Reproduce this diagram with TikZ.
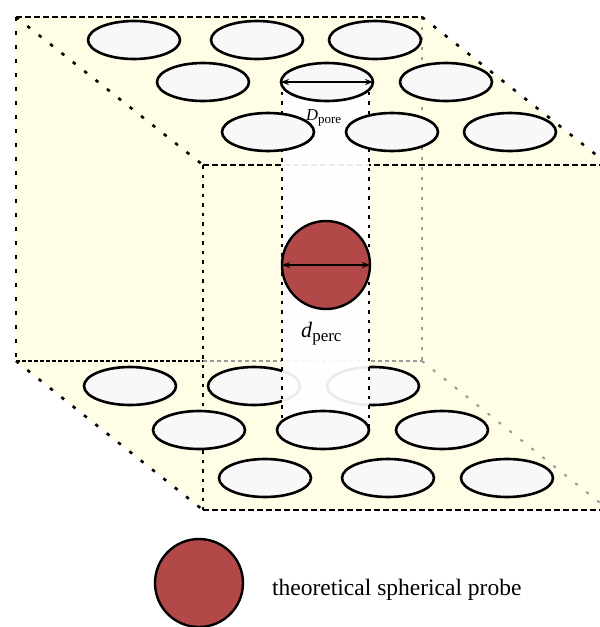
\documentclass[tikz,border=0pt]{standalone}
\usepackage{fontspec}
\setmainfont{Liberation Serif}
\usetikzlibrary{shapes.geometric,arrows.meta}

\definecolor{boxfill}{RGB}{255,253,230}
\definecolor{porefill}{RGB}{248,248,248}
\definecolor{probered}{RGB}{178,72,72}

\begin{document}
\begin{tikzpicture}[x=1pt,y=-1pt,
  pore/.style={ellipse,draw,line width=2.6pt,fill=porefill,
    minimum width=92pt,minimum height=38pt,inner sep=0pt},
  probe/.style={circle,draw,line width=2.4pt,fill=probered,
    minimum size=88pt,inner sep=0pt},
  edgeh/.style={line width=2.6pt,dash pattern=on 6pt off 3pt},
  edgeback/.style={line width=2.6pt,dash pattern=on 4pt off 10pt},
  edgefront/.style={line width=2.6pt,dash pattern=on 3.5pt off 6pt},
  edgediag/.style={line width=2.6pt,dash pattern=on 3.5pt off 11pt},
  hidden/.style={black!40,line width=2pt},
  dimarrow/.style={{Stealth[length=8pt,width=6pt]}-{Stealth[length=8pt,width=6pt]},
    line width=1.4pt,shorten <=1.2pt,shorten >=1.2pt},
]
\useasboundingbox (0,0) rectangle (600,627);
\clip (0,0) rectangle (600,627);

% corners of the box: back face B, front face F
\coordinate (B1) at (16,17);
\coordinate (B2) at (422,17);
\coordinate (B3) at (422,361);
\coordinate (B4) at (16,361);
\coordinate (Bm) at (203,361);
\coordinate (F1) at (203,165);
\coordinate (F2) at (609,165);
\coordinate (F3) at (609,510);
\coordinate (F4) at (203,510);

% translucent box body
\fill[boxfill] (B1) -- (B2) -- (F2) -- (F3) -- (F4) -- (B4) -- cycle;

% hidden edges
\draw[hidden,dash pattern=on 3pt off 7pt] (B2) -- (B3);
\draw[hidden,dash pattern=on 4pt off 3pt] (Bm) -- (B3);
\draw[hidden,dash pattern=on 3pt off 11pt] (B3) -- (F3);

% visible edges
\draw[edgeh] (B1) -- (B2);
\draw[edgeback] (B1) -- (B4);
\draw[edgeh,dash pattern=on 4pt off 2pt] (B4) -- (Bm);
\draw[edgediag] (B1) -- (F1);
\draw[edgediag] (B2) -- (F2);
\draw[edgediag] (B4) -- (F4);
\draw[edgeh] (F1) -- (F2);
\draw[edgeh] (F4) -- (F3);
\draw[edgefront] (F1) -- (F4);

% back row of lower pores (partly behind the channel)
\node[pore] (b11) at (130,386) {};
\node[pore] (b12) at (254,386) {};
\node[pore] (b13) at (373,386) {};

% channel through the box
\fill[white,opacity=0.92] (282,82) rectangle (369,430);
\draw[edgefront] (282,82) -- (282,430);
\draw[edgefront] (369,82) -- (369,430);

% upper pores
\node[pore] (t11) at (134,40) {};
\node[pore] (t12) at (257,40) {};
\node[pore] (t13) at (375,40) {};
\node[pore] (t21) at (203,82) {};
\node[pore] (t22) at (327,82) {};
\node[pore] (t23) at (446,82) {};
\node[pore] (t31) at (268,132) {};
\node[pore] (t32) at (392,132) {};
\node[pore] (t33) at (510,132) {};

% lower pores, front rows
\node[pore] (b21) at (199,430) {};
\node[pore] (b22) at (323,430) {};
\node[pore] (b23) at (442,430) {};
\node[pore] (b31) at (265,478) {};
\node[pore] (b32) at (388,478) {};
\node[pore] (b33) at (507,478) {};

% pore diameter
\draw[dimarrow] (t22.west) -- (t22.east);
\node[anchor=base west,inner sep=0pt] (dpore) at (306,120)
  {\fontsize{16.5}{16.5}\selectfont\textit{D}\raisebox{-3.5pt}{\fontsize{13}{13}\selectfont pore}};

% probe inside the channel
\node[probe] (sphere) at (326,265) {};
\draw[dimarrow] (sphere.west) -- (sphere.east);
\node[anchor=base west,inner sep=0pt] (dperc) at (301,337)
  {\fontsize{22}{22}\selectfont\textit{d}\raisebox{-4pt}{\fontsize{17}{17}\selectfont perc}};

% legend
\node[probe] (legend) at (199,583) {};
\node[anchor=base west,inner sep=0pt,font=\fontsize{23.5}{28}\selectfont] (legendtext)
  at (272,595) {theoretical spherical probe};
\end{tikzpicture}
\end{document}
